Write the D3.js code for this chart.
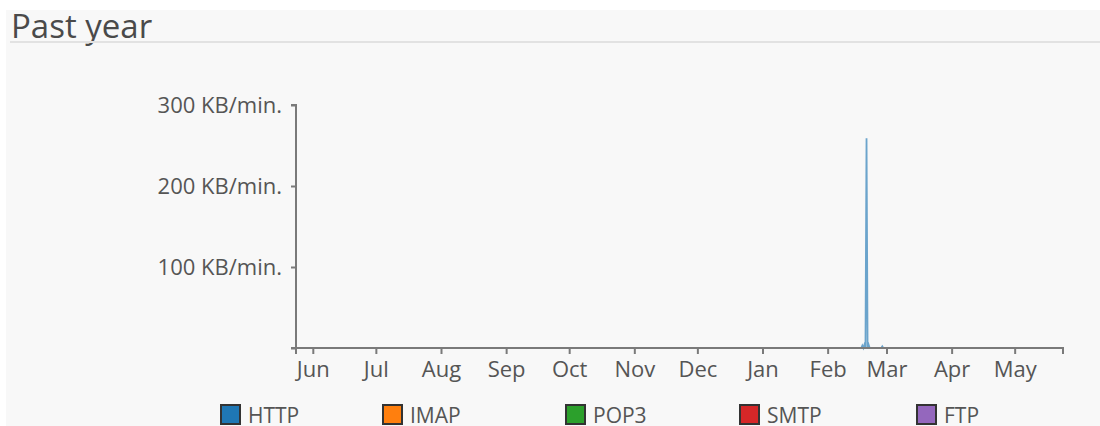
<!DOCTYPE html>
<html>
<head>
<meta charset="utf-8">
<script src="https://cdn.jsdelivr.net/npm/d3@7"></script>
<style>
  html, body { margin: 0; padding: 0; background: #fff; }
  svg { display: block; }
  text { font-family: "Open Sans", sans-serif; }
</style>
</head>
<body>
<svg id="chart" width="1100" height="426"></svg>
<script>
// Traffic over the past year, KB per minute by protocol
const seriesNames = ["HTTP", "IMAP", "POP3", "SMTP", "FTP"];
const seriesColors = ["#1f77b4", "#ff7f0e", "#2ca02c", "#d62728", "#9467bd"];

const rangeStart = "2018-05-24";
const rangeEnd = "2019-05-24";

const httpTimes = ["2018-05-24", "2019-02-17", "2019-02-17T12:00", "2019-02-18", "2019-02-18T12:00",
  "2019-02-19", "2019-02-19T12:00", "2019-02-20", "2019-02-20T12:00", "2019-02-21",
  "2019-02-21T12:00", "2019-02-26T12:00", "2019-02-27", "2019-02-27T12:00", "2019-05-24"];
const httpValues = [0, 0, 3, 0, 4, 0, 259, 0, 4, 0, 0, 0, 2, 0, 0];
const otherTimes = ["2018-05-24", "2019-05-24"];
const otherValues = [0, 0];

const yTicks = [0, 100, 200, 300];
const monthTicks = ["2018-06-01", "2018-07-01", "2018-08-01", "2018-09-01", "2018-10-01", "2018-11-01",
  "2018-12-01", "2019-01-01", "2019-02-01", "2019-03-01", "2019-04-01", "2019-05-01"];
const monthLabels = ["Jun", "Jul", "Aug", "Sep", "Oct", "Nov", "Dec", "Jan", "Feb", "Mar", "Apr", "May"];

const parse = s => new Date(s.length > 10 ? s : s + "T00:00");

const svg = d3.select("#chart");

// panel and heading
svg.append("rect").attr("x", 6).attr("y", 10).attr("width", 1094).attr("height", 416).attr("fill", "#f8f8f8");
svg.append("text").attr("x", 11).attr("y", 38).attr("font-size", 33).attr("fill", "#4a4a4a").text("Past year");
svg.append("line").attr("x1", 10).attr("x2", 1100).attr("y1", 42).attr("y2", 42)
  .attr("stroke", "#e2e2e2").attr("stroke-width", 2);

const x = d3.scaleTime().domain([parse(rangeStart), parse(rangeEnd)]).range([296, 1063]);
const y = d3.scaleLinear().domain([0, 300]).range([348, 105]);

const series = seriesNames.map((name, i) => {
  const times = i === 0 ? httpTimes : otherTimes;
  const vals = i === 0 ? httpValues : otherValues;
  return { name, color: seriesColors[i], points: times.map((t, j) => ({ t: parse(t), v: vals[j] })) };
});

const line = d3.line().x(d => x(d.t)).y(d => y(d.v));
svg.append("g").selectAll("path").data(series.slice().reverse()).join("path")
  .attr("d", d => line(d.points))
  .attr("fill", "none")
  .attr("stroke", d => d.color)
  .attr("stroke-width", 1.8)
  .attr("stroke-opacity", 0.65);

const axisColor = "#7a7a7a";
const labelColor = "#555";
const fontSize = 22;

// y axis
const yAxis = d3.axisLeft(y).tickValues(yTicks).tickSize(5).tickPadding(9)
  .tickFormat(d => d === 0 ? "" : d + " KB/min.");
const gy = svg.append("g").attr("transform", "translate(296,0)").call(yAxis);
gy.select(".domain").attr("stroke", axisColor).attr("stroke-width", 2).attr("d", "M-5,105H0V348");
gy.selectAll(".tick line").attr("stroke", axisColor).attr("stroke-width", 2);
gy.selectAll(".tick text").attr("font-size", fontSize).attr("fill", labelColor).attr("font-family", "Open Sans");

// x axis
const xAxis = d3.axisBottom(x).tickValues(monthTicks.map(parse)).tickSize(6).tickPadding(7)
  .tickFormat((d, i) => monthLabels[i]);
const gx = svg.append("g").attr("transform", "translate(0,348)").call(xAxis);
gx.select(".domain").attr("stroke", axisColor).attr("stroke-width", 2).attr("d", "M291,0H1063V6");
gx.selectAll(".tick line").attr("stroke", axisColor).attr("stroke-width", 2);
gx.selectAll(".tick text").attr("font-size", fontSize).attr("fill", labelColor).attr("font-family", "Open Sans");
gx.append("line").attr("x1", 296).attr("x2", 296).attr("y1", 0).attr("y2", 6)
  .attr("stroke", axisColor).attr("stroke-width", 2);

// legend
const legendX = [221, 383, 566, 740, 917];
const lg = svg.append("g").selectAll("g").data(series).join("g")
  .attr("transform", (d, i) => `translate(${legendX[i]},405)`);
lg.append("rect").attr("width", 19).attr("height", 19).attr("fill", d => d.color)
  .attr("stroke", "#333").attr("stroke-width", 2);
lg.append("text").attr("x", 27).attr("y", 18).attr("font-size", 21).attr("fill", labelColor).text(d => d.name);
</script>
</body>
</html>
